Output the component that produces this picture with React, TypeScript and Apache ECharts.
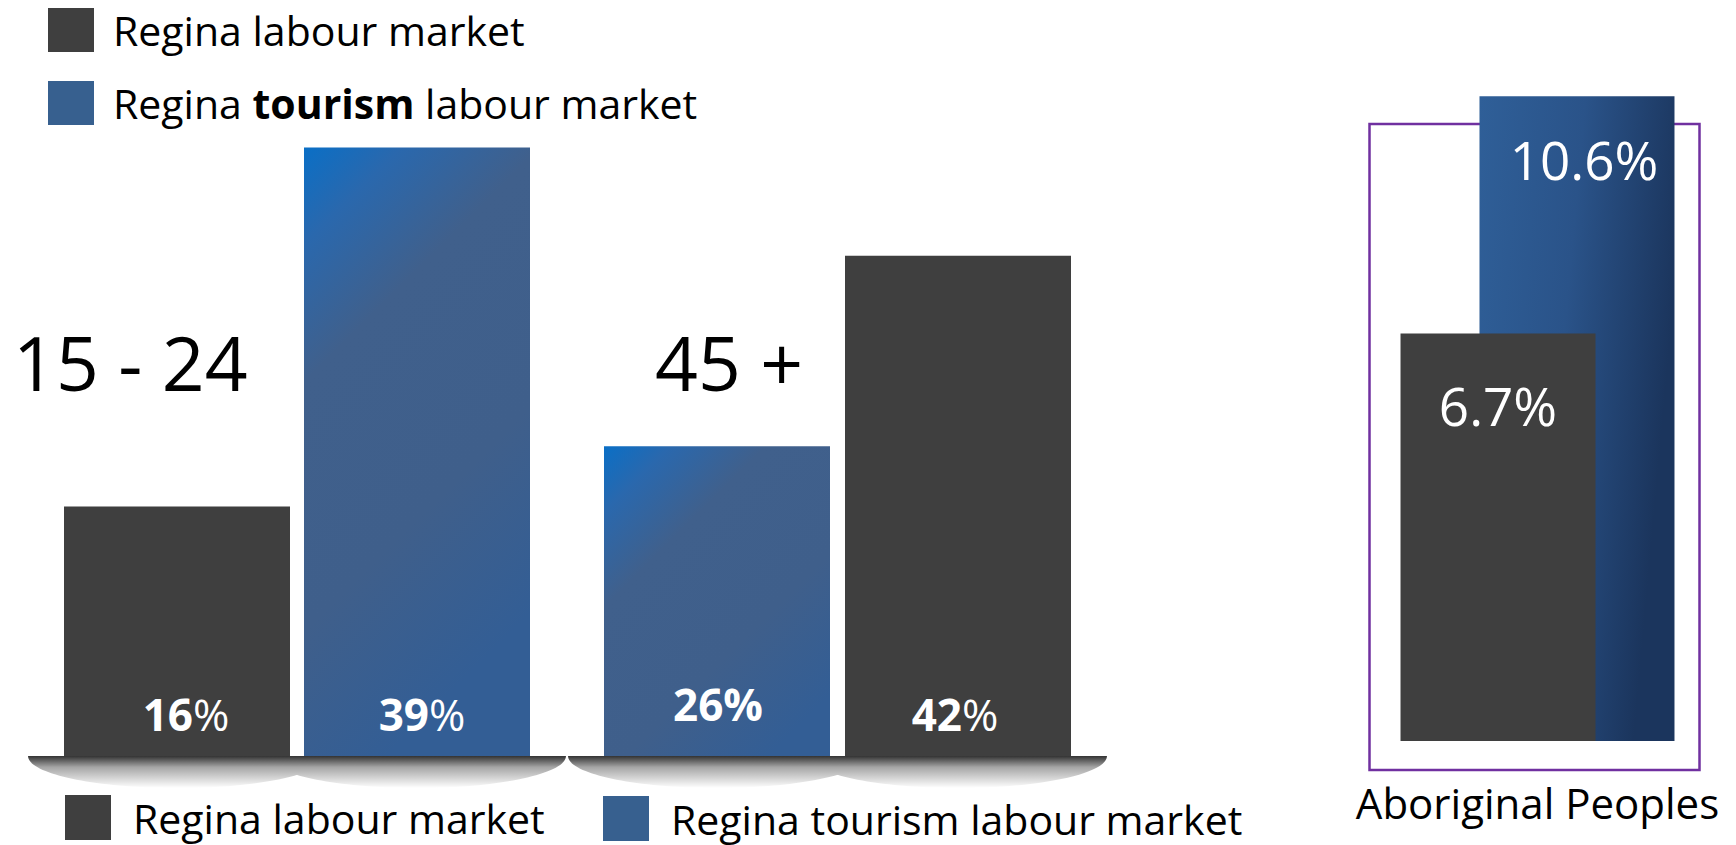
import React, { useEffect, useRef } from 'react';
import * as echarts from 'echarts';

// ---- data ----
const ageGroups = ['15 - 24', '45 +'];
const seriesNames = ['Regina labour market', 'Regina tourism labour market'];
const youthLabour = [16];
const youthTourism = [39];
const olderTourism = [26];
const olderLabour = [42];
const aboriginalCategory = ['Aboriginal Peoples'];
const aboriginalLabour = [6.7];
const aboriginalTourism = [10.6];

// ---- styles / layout ----
const FONT = "'Open Sans', 'Noto Sans', sans-serif";
const DARK = '#3f3f3f';
const LEGEND_BLUE = '#37608f';
const W = 1736;
const H = 845;
const GA = { left: 64, width: 466, top: 132, bottom: 89 };
const GB = { left: 604, width: 467, top: 220, bottom: 89 };
const GC = { left: 1400, width: 275, top: 11, bottom: 104 };
const BW = 226;
const GAP_A = 14;
const GAP_B = 15;
const BW_C = 195;
const SH_EXT = 36;
const SH_H = 32;

// soft shadow under a pair of bars: union of two half-ellipses in one path
const lobe = (x0: number, x1: number, h: number) => {
  const cx = (x0 + x1) / 2;
  const r = (x1 - x0) / 2;
  const k = 0.552;
  return `M${x0} 0 L${x1} 0 C${x1} ${k * h} ${cx + k * r} ${h} ${cx} ${h} C${cx - k * r} ${h} ${x0} ${k * h} ${x0} 0 Z`;
};
const pairShadowPath = (gap: number) => {
  const w = BW + 2 * SH_EXT;
  const second = BW + gap;
  return lobe(0, w, SH_H) + ' ' + lobe(second, second + w, SH_H);
};
echarts.graphic.registerShape('pairShadowA', echarts.graphic.extendPath(pairShadowPath(GAP_A), {}));
echarts.graphic.registerShape('pairShadowB', echarts.graphic.extendPath(pairShadowPath(GAP_B), {}));

// gradients use the bar's bounding box: pick the vector so that the colour bands run at ~45 degrees
const pairGradient = (x2: number) =>
  new echarts.graphic.LinearGradient(0, 0, x2, 1, [
    { offset: 0, color: '#0a6fc6' },
    { offset: 0.14, color: '#2a68ad' },
    { offset: 0.34, color: '#40608c' },
    { offset: 0.7, color: '#3f5f8b' },
    { offset: 1, color: '#335e95' },
  ]);

const richLabel = (offsetX: number, distance: number, boldPct: boolean) => ({
  show: true,
  position: 'insideBottom',
  distance,
  offset: [offsetX, 0],
  formatter: '{v|{c}}{p|%}',
  rich: {
    v: { fontFamily: FONT, fontSize: 44, fontWeight: 'bold', color: '#fff' },
    p: { fontFamily: FONT, fontSize: 44, fontWeight: boldPct ? 'bold' : 'normal', color: '#fff' },
  },
});

export default function App() {
  const ref = useRef<HTMLDivElement>(null);
  useEffect(() => {
    if (!ref.current) return;
    const chart = echarts.init(ref.current, null, { renderer: 'svg' });

    const shadowFill = () =>
      new echarts.graphic.LinearGradient(0, 0, 0, 1, [
        { offset: 0, color: 'rgba(0,0,0,0.8)' },
        { offset: 0.35, color: 'rgba(0,0,0,0.35)' },
        { offset: 1, color: 'rgba(0,0,0,0)' },
      ]);
    const shadows = [
      { type: 'pairShadowA', x: GA.left - SH_EXT, y: H - GA.bottom, silent: true, style: { fill: shadowFill() } },
      { type: 'pairShadowB', x: GB.left - SH_EXT, y: H - GB.bottom, silent: true, style: { fill: shadowFill() } },
    ];

    const legendText = {
      fontFamily: FONT,
      fontSize: 41,
      color: '#000',
    };

    chart.setOption({
      animation: false,
      backgroundColor: '#fff',
      grid: [
        { left: GA.left, width: GA.width, top: GA.top, bottom: GA.bottom },
        { left: GB.left, width: GB.width, top: GB.top, bottom: GB.bottom },
        { left: GC.left, width: GC.width, top: GC.top, bottom: GC.bottom },
      ],
      xAxis: [
        { type: 'category', gridIndex: 0, data: [ageGroups[0]], show: false },
        { type: 'category', gridIndex: 1, data: [ageGroups[1]], show: false },
        {
          type: 'category',
          gridIndex: 2,
          data: aboriginalCategory,
          axisLine: { show: false },
          axisTick: { show: false },
          axisLabel: { fontFamily: FONT, fontSize: 42, color: '#000', margin: 40 },
        },
      ],
      yAxis: [
        { type: 'value', gridIndex: 0, min: 0, max: 40, show: false, splitLine: { show: false } },
        { type: 'value', gridIndex: 1, min: 0, max: 45, show: false, splitLine: { show: false } },
        { type: 'value', gridIndex: 2, min: 0, max: 12, show: false, splitLine: { show: false } },
      ],
      legend: [
        {
          orient: 'vertical',
          left: 48,
          top: 8,
          padding: 0,
          icon: 'rect',
          itemWidth: 46,
          itemHeight: 44,
          itemGap: 29,
          selectedMode: false,
          data: [
            { name: seriesNames[0], itemStyle: { color: DARK } },
            { name: seriesNames[1], itemStyle: { color: LEGEND_BLUE } },
          ],
          formatter: (n: string) =>
            n === seriesNames[1] ? '{n|Regina }{b|tourism}{n| labour market}' : n,
          textStyle: {
            ...legendText,
            padding: [0, 0, 0, 14],
            rich: {
              n: { ...legendText },
              b: { ...legendText, fontWeight: 'bold' },
            },
          },
        },
        {
          left: 65,
          top: 795,
          padding: 0,
          icon: 'rect',
          itemWidth: 46,
          itemHeight: 45,
          selectedMode: false,
          data: [{ name: seriesNames[0], itemStyle: { color: DARK } }],
          textStyle: { ...legendText, lineHeight: 36, padding: [0, 0, 0, 17] },
        },
        {
          left: 603,
          top: 796,
          padding: 0,
          icon: 'rect',
          itemWidth: 46,
          itemHeight: 45,
          selectedMode: false,
          data: [{ name: seriesNames[1], itemStyle: { color: LEGEND_BLUE } }],
          textStyle: { ...legendText, lineHeight: 36, padding: [0, 0, 0, 17] },
        },
      ],
      graphic: [
        {
          type: 'rect',
          z: 0,
          shape: { x: 1369.5, y: 124, width: 330, height: 646 },
          style: { fill: 'none', stroke: '#7030a0', lineWidth: 2.5 },
          silent: true,
        },
        ...shadows,
        {
          type: 'text',
          x: 13,
          y: 362,
          silent: true,
          style: { text: ageGroups[0], fontFamily: FONT, fontSize: 75, fill: '#000', verticalAlign: 'middle' },
        },
        {
          type: 'text',
          x: 655,
          y: 362,
          silent: true,
          style: { text: ageGroups[1], fontFamily: FONT, fontSize: 75, fill: '#000', verticalAlign: 'middle' },
        },
      ],
      series: [
        {
          name: seriesNames[0],
          type: 'bar',
          xAxisIndex: 0,
          yAxisIndex: 0,
          data: youthLabour,
          barWidth: BW,
          barGap: `${(GAP_A / BW) * 100}%`,
          itemStyle: { color: DARK },
          label: richLabel(9, 20, false),
        },
        {
          name: seriesNames[1],
          type: 'bar',
          xAxisIndex: 0,
          yAxisIndex: 0,
          data: youthTourism,
          barWidth: BW,
          barGap: `${(GAP_A / BW) * 100}%`,
          itemStyle: { color: pairGradient(0.37) },
          label: richLabel(5, 20, false),
        },
        {
          name: seriesNames[1],
          type: 'bar',
          xAxisIndex: 1,
          yAxisIndex: 1,
          data: olderTourism,
          barWidth: BW,
          barGap: `${(GAP_B / BW) * 100}%`,
          itemStyle: { color: pairGradient(0.73) },
          label: richLabel(1, 30, true),
        },
        {
          name: seriesNames[0],
          type: 'bar',
          xAxisIndex: 1,
          yAxisIndex: 1,
          data: olderLabour,
          barWidth: BW,
          barGap: `${(GAP_B / BW) * 100}%`,
          itemStyle: { color: DARK },
          label: richLabel(-3, 20, false),
        },
        {
          name: seriesNames[0],
          type: 'bar',
          xAxisIndex: 2,
          yAxisIndex: 2,
          z: 3,
          data: aboriginalLabour,
          barWidth: BW_C,
          barGap: '-59.5%',
          itemStyle: { color: DARK },
          label: {
            show: true,
            position: 'insideTop',
            distance: 46,
            formatter: '{c}%',
            fontFamily: FONT,
            fontSize: 53,
            color: '#fff',
          },
        },
        {
          name: seriesNames[1],
          type: 'bar',
          xAxisIndex: 2,
          yAxisIndex: 2,
          z: 2,
          data: aboriginalTourism,
          barWidth: BW_C,
          barGap: '-59.5%',
          itemStyle: {
            color: new echarts.graphic.LinearGradient(0, 0, 1, 0.3, [
              { offset: 0, color: '#2f5f98' },
              { offset: 0.5, color: '#2a5389' },
              { offset: 1, color: '#1b355d' },
            ]),
          },
          label: {
            show: true,
            position: 'insideTop',
            distance: 37,
            offset: [7, 0],
            formatter: '{c}%',
            fontFamily: FONT,
            fontSize: 53,
            color: '#fff',
          },
        },
      ],
    });

    return () => chart.dispose();
  }, []);

  return (
    <div
      ref={ref}
      style={{ position: 'fixed', left: 0, top: 0, width: W, height: H, background: '#fff' }}
    />
  );
}
